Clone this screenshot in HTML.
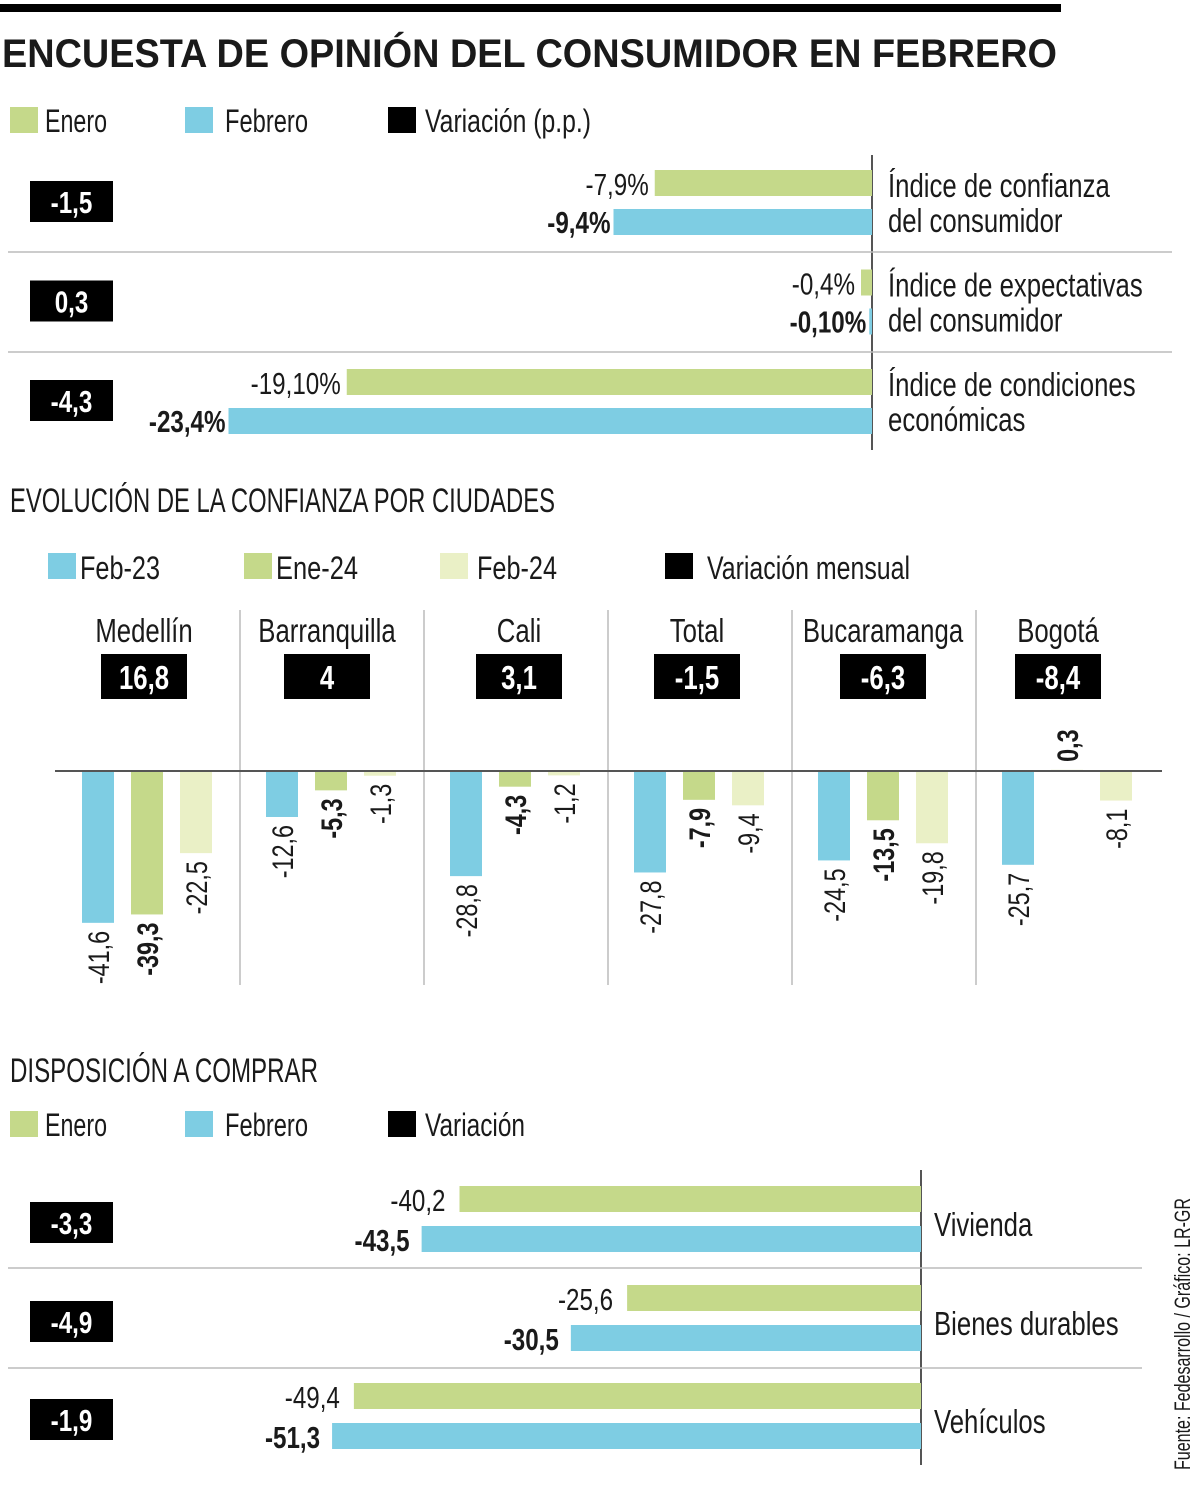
<!DOCTYPE html>
<html><head><meta charset="utf-8"><style>
html,body{margin:0;padding:0;background:#fff}
svg{display:block}
text{font-family:"Liberation Sans Narrow","Liberation Sans",sans-serif;fill:#1a1a1a}
</style></head><body>
<svg id="chart" width="1200" height="1488" viewBox="0 0 1200 1488" xmlns="http://www.w3.org/2000/svg">
<rect x="0" y="4" width="1061" height="8" fill="#000"/>
<text x="2" y="67" font-size="40" font-weight="bold" textLength="1055" lengthAdjust="spacingAndGlyphs">ENCUESTA DE OPINIÓN DEL CONSUMIDOR EN FEBRERO</text>
<g>
<rect x="10" y="107" width="28" height="26" fill="#c5d98a"/><text x="45" y="132" font-size="32" textLength="62" lengthAdjust="spacingAndGlyphs">Enero</text>
<rect x="185" y="107" width="28" height="26" fill="#7ecde3"/><text x="225" y="132" font-size="32" textLength="83" lengthAdjust="spacingAndGlyphs">Febrero</text>
<rect x="388" y="107" width="28" height="26" fill="#000"/><text x="425" y="132" font-size="32" textLength="166" lengthAdjust="spacingAndGlyphs">Variación (p.p.)</text>
</g>
<g id="s1"></g>
<text x="10" y="512" font-size="34" textLength="545" lengthAdjust="spacingAndGlyphs">EVOLUCIÓN DE LA CONFIANZA POR CIUDADES</text>
<g>
<rect x="48" y="553" width="28" height="26" fill="#7ecde3"/><text x="80" y="579" font-size="32" textLength="80" lengthAdjust="spacingAndGlyphs">Feb-23</text>
<rect x="244" y="553" width="28" height="26" fill="#c5d98a"/><text x="276" y="579" font-size="32" textLength="82" lengthAdjust="spacingAndGlyphs">Ene-24</text>
<rect x="440" y="553" width="28" height="26" fill="#eaf0c6"/><text x="477" y="579" font-size="32" textLength="80" lengthAdjust="spacingAndGlyphs">Feb-24</text>
<rect x="665" y="553" width="28" height="26" fill="#000"/><text x="707" y="579" font-size="32" textLength="203" lengthAdjust="spacingAndGlyphs">Variación mensual</text>
</g>
<g id="s2"></g>
<text x="10" y="1082" font-size="34" textLength="308" lengthAdjust="spacingAndGlyphs">DISPOSICIÓN A COMPRAR</text>
<g>
<rect x="10" y="1111" width="28" height="26" fill="#c5d98a"/><text x="45" y="1136" font-size="32" textLength="62" lengthAdjust="spacingAndGlyphs">Enero</text>
<rect x="185" y="1111" width="28" height="26" fill="#7ecde3"/><text x="225" y="1136" font-size="32" textLength="83" lengthAdjust="spacingAndGlyphs">Febrero</text>
<rect x="388" y="1111" width="28" height="26" fill="#000"/><text x="425" y="1136" font-size="32" textLength="100" lengthAdjust="spacingAndGlyphs">Variación</text>
</g>
<g id="s3"></g>
<text transform="translate(1190,1470) rotate(-90)" font-size="22" textLength="272" lengthAdjust="spacingAndGlyphs">Fuente: Fedesarrollo / Gráfico: LR-GR</text>
</svg>
<script>
// Section 1 data
const idxLabels1=[["Índice de confianza","del consumidor"],["Índice de expectativas","del consumidor"],["Índice de condiciones","económicas"]];
const enero1=[-7.9,-0.4,-19.1];
const febrero1=[-9.4,-0.1,-23.4];
const enero1Text=["-7,9%","-0,4%","-19,10%"];
const febrero1Text=["-9,4%","-0,10%","-23,4%"];
const var1=["-1,5","0,3","-4,3"];
// Section 2 data
const cities=["Medellín","Barranquilla","Cali","Total","Bucaramanga","Bogotá"];
const feb23=[-41.6,-12.6,-28.8,-27.8,-24.5,-25.7];
const ene24=[-39.3,-5.3,-4.3,-7.9,-13.5,0.3];
const feb24=[-22.5,-1.3,-1.2,-9.4,-19.8,-8.1];
const varCity=["16,8","4","3,1","-1,5","-6,3","-8,4"];
// Section 3 data
const items3=["Vivienda","Bienes durables","Vehículos"];
const enero3=[-40.2,-25.6,-49.4];
const febrero3=[-43.5,-30.5,-51.3];
const var3=["-3,3","-4,9","-1,9"];

const NS="http://www.w3.org/2000/svg";
function mk(parent,tag,attrs,txt){const e=document.createElementNS(NS,tag);for(const k in attrs)e.setAttribute(k,attrs[k]);if(txt!==undefined)e.textContent=txt;parent.appendChild(e);return e;}
const fmt=v=>(v<0?"-":"")+Math.abs(v).toFixed(1).replace(".",",");

// Section 1
const s1=document.getElementById('s1');
const ax1=872,k1=27.5,x1=v=>ax1+v*k1;
let e=mk(s1,'line',{x1:ax1,y1:155,x2:ax1,y2:450,stroke:'#555','stroke-width':2});

[252,352].forEach(y=>{const l=mk(s1,'line',{x1:8,y1:y,x2:1172,y2:y,stroke:'#bbb','stroke-width':1.5});
});
enero1.forEach((v,i)=>{
  const y0=170+i*99.5;
  const b1=mk(s1,'rect',{x:x1(v),y:y0,width:ax1-x1(v),height:26,fill:'#c5d98a'});
  
  const t1=mk(s1,'text',{x:x1(v)-6,y:y0+25,'font-size':31,'text-anchor':'end'},enero1Text[i]);
  
  const f=febrero1[i];
  const b2=mk(s1,'rect',{x:x1(f),y:y0+39,width:ax1-x1(f),height:26,fill:'#7ecde3'});
  
  const t2=mk(s1,'text',{x:x1(f)-3,y:y0+63,'font-size':31,'font-weight':'bold','text-anchor':'end'},febrero1Text[i]);
  
  const bx=mk(s1,'rect',{x:30,y:y0+11,width:83,height:41,fill:'#000'});
  
  const bt=mk(s1,'text',{x:71.5,y:y0+43,'font-size':31,'font-weight':'bold','text-anchor':'middle',style:'fill:#fff'},var1[i]);
  
  idxLabels1[i].forEach((s,j)=>{const lt=mk(s1,'text',{x:888,y:y0+27+j*35,'font-size':33},s);
  });
});

// Section 2
const s2=document.getElementById('s2');
const base=771,k2=3.65,y2=v=>base-v*k2;
const gStart=[56,240,424,608,792,976];
const boxC=[144,327,519,697,883,1058];
const series=[[feb23,'#7ecde3',false,'bar-feb23'],[ene24,'#c5d98a',true,'bar-ene24'],[feb24,'#eaf0c6',false,'bar-feb24']];
[240,424,608,792,976].forEach(x=>{const l=mk(s2,'line',{x1:x,y1:610,x2:x,y2:985,stroke:'#bbb','stroke-width':1.5});
});
cities.forEach((c,i)=>{
  const ct=mk(s2,'text',{x:boxC[i],y:642,'font-size':33,'text-anchor':'middle'},c);
  
  const bx=mk(s2,'rect',{x:boxC[i]-43,y:654,width:86,height:45,fill:'#000'});
  
  const bt=mk(s2,'text',{x:boxC[i],y:689,'font-size':33,'font-weight':'bold','text-anchor':'middle',style:'fill:#fff'},varCity[i]);
  
  series.forEach((s,j)=>{
    const v=s[0][i];const bxl=gStart[i]+26+j*49;
    const top=Math.min(base,y2(v)),h=Math.abs(y2(v)-base);
    const r=mk(s2,'rect',{x:bxl,y:top,width:32,height:h,fill:s[1]});
    
    const cx=bxl+16+11;
    let t;
    if(v<0){t=mk(s2,'text',{transform:`translate(${cx},${y2(v)+8}) rotate(-90)`,'font-size':30,'text-anchor':'end','font-weight':s[2]?'bold':'normal'},fmt(v));}
    else{t=mk(s2,'text',{transform:`translate(${cx},${y2(v)-8}) rotate(-90)`,'font-size':30,'text-anchor':'start','font-weight':s[2]?'bold':'normal'},fmt(v));}
    
  });
});
e=mk(s2,'line',{x1:55,y1:base,x2:1162,y2:base,stroke:'#555','stroke-width':2});


// Section 3
const s3=document.getElementById('s3');
const ax3=921,k3=11.48,x3=v=>ax3+v*k3;
e=mk(s3,'line',{x1:ax3,y1:1170,x2:ax3,y2:1465,stroke:'#555','stroke-width':2});

[1268,1368].forEach(y=>{const l=mk(s3,'line',{x1:8,y1:y,x2:1142,y2:y,stroke:'#bbb','stroke-width':1.5});
});
const y3=[1186,1285,1383];
items3.forEach((it,i)=>{
  const y0=y3[i],v=enero3[i],f=febrero3[i];
  const b1=mk(s3,'rect',{x:x3(v),y:y0,width:ax3-x3(v),height:26,fill:'#c5d98a'});
  
  const t1=mk(s3,'text',{x:x3(v)-14,y:y0+25,'font-size':31,'text-anchor':'end'},fmt(v));
  
  const b2=mk(s3,'rect',{x:x3(f),y:y0+40,width:ax3-x3(f),height:26,fill:'#7ecde3'});
  
  const t2=mk(s3,'text',{x:x3(f)-12,y:y0+65,'font-size':31,'font-weight':'bold','text-anchor':'end'},fmt(f));
  
  const bx=mk(s3,'rect',{x:30,y:y0+16,width:83,height:41,fill:'#000'});
  
  const bt=mk(s3,'text',{x:71.5,y:y0+48,'font-size':31,'font-weight':'bold','text-anchor':'middle',style:'fill:#fff'},var3[i]);
  
  const lt=mk(s3,'text',{x:934,y:y0+50,'font-size':33},it);
  
});

// condense all texts without explicit length (emulate condensed font)
document.querySelectorAll('#chart text').forEach(t=>{
  if(t.hasAttribute('textLength'))return;
  const w=t.getComputedTextLength();
  if(w>0){t.setAttribute('textLength',(w*0.78).toFixed(1));t.setAttribute('lengthAdjust','spacingAndGlyphs');}
});
</script>
</body></html>
